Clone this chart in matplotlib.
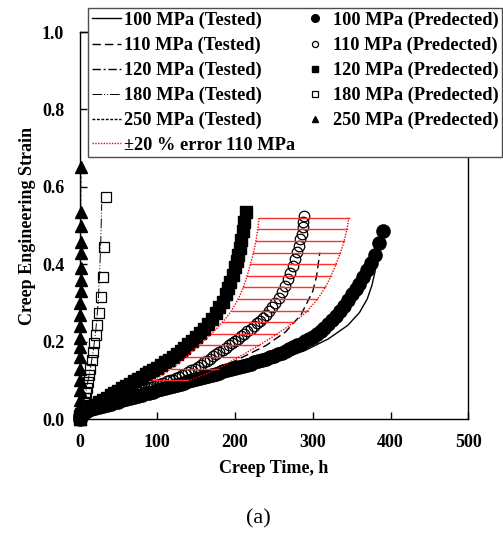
import matplotlib
matplotlib.use("Agg")
import matplotlib.pyplot as plt
import numpy as np

plt.rcParams['font.family'] = ['Liberation Serif', 'DejaVu Serif']
plt.rcParams['font.weight'] = 'bold'
plt.rcParams['axes.labelweight'] = 'bold'

# ---- predicted (markers) ----
t100_pred = [0, 1, 2, 3, 5, 10, 15, 20, 25, 30, 35, 40, 45, 50, 55, 60, 65, 70, 75, 80, 85, 90,
             95, 100, 105, 110, 115, 120, 125, 130, 135, 140, 145, 150, 155, 160, 165, 170,
             175, 180, 185, 190, 195, 200, 205, 210, 215, 220, 225, 230, 235, 240, 245, 250,
             255, 260, 265, 270, 275, 280, 285, 290, 295, 300, 305, 310, 315, 320, 325, 330,
             335, 340, 345, 350, 355, 360, 365, 370, 375, 380, 385, 390]
s100_pred = [0, 0.007, 0.011, 0.014, 0.017, 0.021, 0.025, 0.028, 0.031, 0.034, 0.037, 0.040,
             0.043, 0.045, 0.048, 0.051, 0.054, 0.057, 0.060, 0.063, 0.066, 0.068, 0.071,
             0.074, 0.077, 0.080, 0.083, 0.085, 0.088, 0.091, 0.094, 0.097, 0.100, 0.103,
             0.105, 0.108, 0.111, 0.114, 0.117, 0.120, 0.123, 0.126, 0.128, 0.131, 0.134,
             0.137, 0.140, 0.143, 0.146, 0.150, 0.153, 0.156, 0.160, 0.163, 0.167, 0.171,
             0.175, 0.180, 0.185, 0.190, 0.195, 0.201, 0.207, 0.213, 0.220, 0.227, 0.235,
             0.245, 0.255, 0.266, 0.279, 0.293, 0.308, 0.322, 0.336, 0.350, 0.366, 0.385,
             0.404, 0.425, 0.455, 0.487]

t110_pred = [0, 1, 2, 4, 8, 12, 16, 20, 24, 28, 32, 36, 40, 44, 48, 52, 56, 60, 64, 68, 72, 76,
             80, 84, 88, 92, 96, 100, 104, 108, 112, 116, 120, 124, 128, 132, 136, 140, 144,
             148, 152, 156, 160, 164, 168, 172, 176, 180, 184, 188, 192, 196, 200, 204, 208,
             212, 216, 220, 224, 228, 232, 236, 240, 244, 248, 252, 256, 260, 264, 268, 271,
             274, 277, 280, 282, 284, 285.5, 287, 288, 289]
s110_pred = [0, 0.008, 0.013, 0.017, 0.022, 0.025, 0.028, 0.031, 0.034, 0.036, 0.039, 0.042,
             0.045, 0.048, 0.051, 0.054, 0.056, 0.059, 0.062, 0.065, 0.068, 0.071, 0.074,
             0.077, 0.079, 0.082, 0.085, 0.088, 0.091, 0.094, 0.097, 0.100, 0.102, 0.106,
             0.109, 0.113, 0.117, 0.121, 0.126, 0.130, 0.135, 0.140, 0.146, 0.151, 0.156,
             0.162, 0.167, 0.173, 0.179, 0.184, 0.190, 0.196, 0.202, 0.208, 0.214, 0.220,
             0.227, 0.233, 0.240, 0.247, 0.254, 0.262, 0.270, 0.279, 0.290, 0.301, 0.313,
             0.327, 0.343, 0.362, 0.378, 0.395, 0.413, 0.432, 0.447, 0.464, 0.479, 0.495,
             0.510, 0.525]

t120_pred = [0, 1, 2, 4, 7, 10, 15, 20, 25, 30, 35, 40, 45, 50, 55, 60, 65, 70, 75, 80, 85, 90,
             95, 100, 105, 110, 115, 120, 125, 130, 135, 140, 145, 150, 155, 160, 165, 170,
             175, 180, 184, 188, 191, 194, 197, 200, 202, 204, 206, 208, 210, 212, 213.5]
s120_pred = [0, 0.009, 0.014, 0.018, 0.022, 0.026, 0.031, 0.037, 0.043, 0.049, 0.055, 0.061,
             0.067, 0.073, 0.079, 0.085, 0.091, 0.097, 0.103, 0.109, 0.115, 0.121, 0.127,
             0.133, 0.139, 0.146, 0.153, 0.160, 0.168, 0.176, 0.184, 0.193, 0.202, 0.212,
             0.222, 0.233, 0.245, 0.258, 0.273, 0.289, 0.303, 0.322, 0.338, 0.355, 0.373,
             0.392, 0.407, 0.425, 0.443, 0.462, 0.486, 0.510, 0.536]

t180_pred = [0, 1, 2, 3, 4, 5, 6, 7, 8.6, 9.8, 11, 12.5, 14, 15.5, 17, 18.8, 20.8, 23, 25.5,
             28, 30, 32, 33.5]
s180_pred = [0, 0.008, 0.015, 0.022, 0.030, 0.037, 0.045, 0.055, 0.068, 0.080, 0.096, 0.114,
             0.130, 0.152, 0.174, 0.196, 0.217, 0.243, 0.275, 0.316, 0.368, 0.444, 0.574]

t250_pred = [0, 0.1, 0.2, 0.3, 0.4, 0.5, 0.6, 0.7, 0.8, 0.9, 1.0, 1.1, 1.2, 1.3, 1.4, 1.5,
             1.6, 1.7, 1.8, 1.9, 2.0]
s250_pred = [0, 0.015, 0.030, 0.050, 0.075, 0.100, 0.130, 0.160, 0.185, 0.210, 0.240, 0.270,
             0.300, 0.330, 0.360, 0.390, 0.430, 0.457, 0.500, 0.535, 0.650]

# ---- tested (lines) ----
t100_test = [0, 1, 3, 10, 30, 60, 100, 150, 200, 250, 290, 320, 345, 360, 370, 376, 380, 382]
s100_test = [0, 0.008, 0.013, 0.017, 0.028, 0.043, 0.064, 0.090, 0.117, 0.147, 0.177, 0.207,
             0.242, 0.275, 0.310, 0.345, 0.380, 0.405]
t110_test = [0, 2, 50, 100, 150, 200, 240, 265, 285, 300, 305, 309]
s110_test = [0, 0.015, 0.045, 0.080, 0.115, 0.150, 0.190, 0.225, 0.270, 0.330, 0.370, 0.430]
t120_test = [0, 2, 10, 50, 100, 150, 180, 195, 205, 210, 213]
s120_test = [0, 0.014, 0.024, 0.068, 0.125, 0.200, 0.265, 0.315, 0.380, 0.430, 0.480]
t180_test = [0, 2, 6, 10, 14, 18, 21, 24, 26, 27.5, 28.5]
s180_test = [0, 0.015, 0.050, 0.090, 0.130, 0.180, 0.230, 0.300, 0.380, 0.470, 0.555]
t250_test = [0, 0.5, 1.0, 1.5, 2.0]
s250_test = [0, 0.200, 0.400, 0.600, 0.660]

# error band: +/-20 % in time around the 110 MPa prediction
err_levels = [0.10, 0.13, 0.16, 0.19, 0.22, 0.25, 0.28, 0.31, 0.34, 0.37, 0.40, 0.43, 0.46,
              0.49, 0.52]

fig = plt.figure(figsize=(5.03, 5.36), dpi=100)
ax = fig.add_axes([79.5 / 503, 117 / 536, 388.8 / 503, 387 / 536])

ax.plot(t100_test, s100_test, color='black', lw=1.0, ls='-', label='100 MPa (Tested)')
ax.plot(t110_test, s110_test, color='black', lw=1.0, ls=(0, (6, 3)), label='110 MPa (Tested)')
ax.plot(t120_test, s120_test, color='black', lw=1.0, ls=(0, (6, 2, 1.5, 2)), label='120 MPa (Tested)')
ax.plot(t180_test, s180_test, color='black', lw=0.7, ls=(0, (10, 2, 1, 2, 1, 2)), label='180 MPa (Tested)')
ax.plot(t250_test, s250_test, color='black', lw=1.0, ls=(0, (2, 1.2)), label='250 MPa (Tested)')

# band
t110 = np.array(t110_pred)
s110 = np.array(s110_pred)
lev = np.array(err_levels)
t_lev = np.interp(lev, s110, t110)
mask = (s110 >= lev[0]) & (s110 <= lev[-1])
s_edge = np.concatenate([[lev[0]], s110[mask], [lev[-1]]])
t_edge = np.concatenate([[t_lev[0]], t110[mask], [t_lev[-1]]])
for lv, tc in zip(lev, t_lev):
    ax.plot([0.8 * tc, 1.2 * tc], [lv, lv], color='#ff3030', lw=1.0, zorder=4)
ax.plot(0.8 * t_edge, s_edge, color='red', lw=1.0, ls=(0, (1, 1)), zorder=4,
        label='±20 % error 110 MPa')
ax.plot(1.2 * t_edge, s_edge, color='red', lw=1.0, ls=(0, (1, 1)), zorder=4)

mk = dict(ls='none', mec='black', clip_on=False, zorder=3)
ax.plot(t100_pred, s100_pred, marker='o', ms=9.5, mfc='black', label='100 MPa (Predected)', **mk)
ax.plot(t110_pred, s110_pred, marker='o', ms=7.6, mfc='none', mew=0.9, label='110 MPa (Predected)', **mk)
ax.plot(t120_pred, s120_pred, marker='s', ms=8.5, mfc='black', label='120 MPa (Predected)', **mk)
ax.plot(t180_pred, s180_pred, marker='s', ms=7.4, mfc='none', mew=0.9, label='180 MPa (Predected)', **mk)
ax.plot(t250_pred, s250_pred, marker='^', ms=8, mfc='black', label='250 MPa (Predected)', **mk)

ax.set_xlim(0, 500)
ax.set_ylim(0, 1.0)
ax.set_xticks([0, 100, 200, 300, 400, 500])
ax.set_yticks([0.0, 0.2, 0.4, 0.6, 0.8, 1.0])
ax.set_yticklabels(['0.0', '0.2', '0.4', '0.6', '0.8', '1.0'])
ax.tick_params(direction='in', length=5, width=1, labelsize=13, pad=11)
for sp in ax.spines.values():
    sp.set_linewidth(1.0)

ax.set_xlabel('Creep Time, h', fontsize=13)
ax.set_ylabel('Creep Engineering Strain', fontsize=13)
ax.xaxis.set_label_coords(0.5, -0.105)
ax.yaxis.set_label_coords(-0.112, 0.5)

handles, labels = ax.get_legend_handles_labels()
leg = ax.legend(handles, labels, ncol=2, loc='upper left',
                bbox_to_anchor=(88 / 503, 1 - 8 / 536), bbox_transform=fig.transFigure,
                fontsize=13.2, frameon=True, fancybox=False, framealpha=1,
                edgecolor='0.3', borderpad=0.2, labelspacing=0.42, handlelength=1.6,
                handletextpad=0.17, columnspacing=0.3, markerscale=0.58, borderaxespad=0)
leg.get_frame().set_linewidth(1.0)
leg.set_zorder(10)

fig.text(258 / 503, 1 - 519 / 536, '(a)', fontsize=16, fontweight='normal',
         ha='center', va='center')

fig.savefig('out.png', dpi=100)
